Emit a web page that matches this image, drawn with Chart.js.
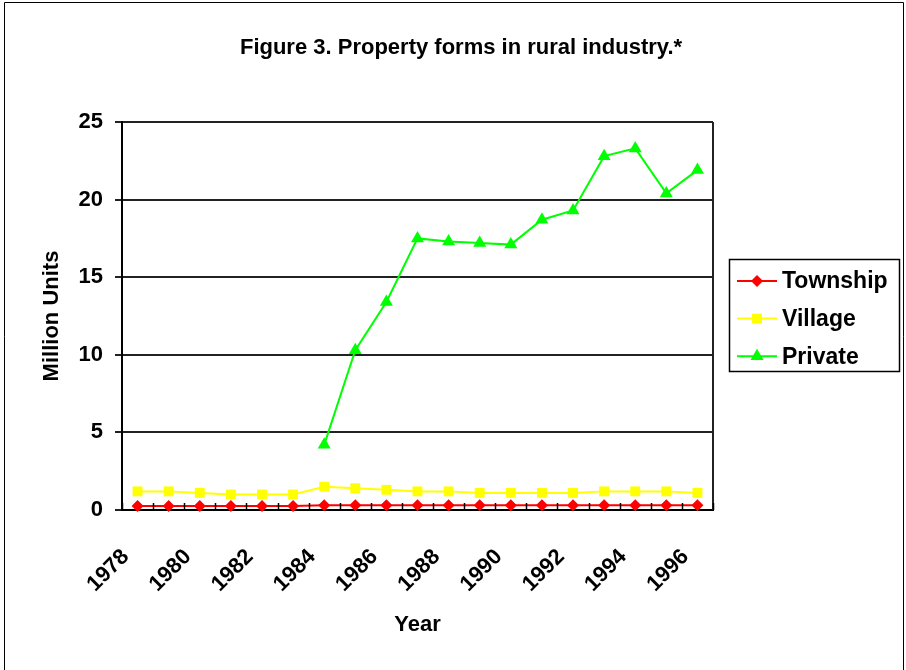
<!DOCTYPE html>
<html>
<head>
<meta charset="utf-8">
<script src="https://cdn.jsdelivr.net/npm/chart.js@4.4.1/dist/chart.umd.min.js"></script>
<style>
  html, body { margin: 0; padding: 0; background: #fff; }
  #wrap { position: relative; width: 906px; height: 670px; }
</style>
</head>
<body>
<div id="wrap"><canvas id="chart" width="906" height="670"></canvas></div>
<script>
var years = ['1978','1979','1980','1981','1982','1983','1984','1985','1986','1987',
             '1988','1989','1990','1991','1992','1993','1994','1995','1996'];
var township = [0.25, 0.25, 0.25, 0.25, 0.25, 0.25, 0.3, 0.3, 0.3, 0.3,
                0.3, 0.3, 0.3, 0.3, 0.3, 0.3, 0.3, 0.3, 0.3];
var village = [1.2, 1.2, 1.1, 1.0, 1.0, 1.0, 1.5, 1.4, 1.3, 1.2,
               1.2, 1.1, 1.1, 1.1, 1.1, 1.2, 1.2, 1.2, 1.1];
var privateUnits = [null, null, null, null, null, null, 4.2, 10.3, 13.4, 17.5,
                    17.3, 17.2, 17.1, 18.7, 19.3, 22.8, 23.3, 20.4, 21.9];
var yTicks = [0, 5, 10, 15, 20, 25];

var FONT = '"Liberation Sans", Arial, sans-serif';
var chartTitle = 'Figure 3. Property forms in rural industry.*';

var seriesInfo = [
    {label: 'Township', data: township, color: '#ff0000', style: 'rectRot', radius: 6},
    {label: 'Village', data: village, color: '#ffff00', style: 'rect', radius: 7},
    {label: 'Private', data: privateUnits, color: '#00ff00', style: 'triangle', radius: 7.5}
];

// frame, title, plot box, inner x ticks and legend
var decorations = {
    id: 'decorations',
    beforeDraw(chart) {
        var ctx = chart.ctx;
        ctx.save();
        ctx.fillStyle = '#fff';
        ctx.fillRect(0, 0, chart.width, chart.height);
        ctx.strokeStyle = '#000';
        ctx.lineWidth = 1;
        ctx.beginPath();
        ctx.moveTo(4.5, 670);
        ctx.lineTo(4.5, 2.5);
        ctx.lineTo(903.5, 2.5);
        ctx.lineTo(903.5, 670);
        ctx.stroke();
        ctx.restore();
    },
    afterDraw(chart) {
        var ctx = chart.ctx;
        var area = chart.chartArea;
        var x = chart.scales.x;
        ctx.save();
        // right edge of plot
        ctx.strokeStyle = '#222';
        ctx.lineWidth = 2;
        ctx.beginPath();
        ctx.moveTo(area.right, area.top);
        ctx.lineTo(area.right, area.bottom);
        ctx.stroke();
        // inner tick marks on category boundaries
        ctx.strokeStyle = '#000';
        ctx.lineWidth = 1.5;
        ctx.beginPath();
        for (var i = 0; i <= years.length; i++) {
            var px = Math.round(x.getPixelForValue(i - 0.5)) + 0.5;
            ctx.moveTo(px, area.bottom);
            ctx.lineTo(px, area.bottom - 7);
        }
        ctx.stroke();

        // title
        ctx.fillStyle = '#000';
        ctx.font = 'bold 22px ' + FONT;
        ctx.textAlign = 'center';
        ctx.textBaseline = 'middle';
        ctx.fillText(chartTitle, 461, 48);

        // legend
        ctx.strokeStyle = '#000';
        ctx.lineWidth = 1.5;
        ctx.strokeRect(729.5, 259.5, 170, 112);
        ctx.textAlign = 'left';
        seriesInfo.forEach(function(s, i) {
            var y = 281 + i * 37.6;
            ctx.strokeStyle = s.color;
            ctx.lineWidth = 2;
            ctx.beginPath();
            ctx.moveTo(737, y);
            ctx.lineTo(777, y);
            ctx.stroke();
            ctx.fillStyle = s.color;
            Chart.helpers.drawPoint(ctx, {pointStyle: s.style, radius: s.radius, rotation: 0, borderWidth: 0}, 757, y);
            ctx.fillStyle = '#000';
            ctx.font = 'bold 23px ' + FONT;
            ctx.fillText(s.label, 782, y + 1);
        });
        ctx.restore();
    }
};

var ctx = document.getElementById('chart').getContext('2d');
var chart = new Chart(ctx, {
    type: 'line',
    data: {
        labels: years,
        datasets: seriesInfo.map(function(s) {
            return {
                label: s.label,
                data: s.data,
                borderColor: s.color,
                backgroundColor: s.color,
                pointBackgroundColor: s.color,
                pointBorderColor: s.color,
                pointBorderWidth: 0,
                pointStyle: s.style,
                pointRadius: s.radius,
                borderWidth: 2,
                tension: 0,
                spanGaps: false,
                clip: false
            };
        })
    },
    options: {
        responsive: false,
        animation: false,
        layout: {padding: {top: 122, right: 193, left: 0, bottom: 0}},
        plugins: {
            legend: {display: false},
            title: {display: false},
            tooltip: {enabled: false}
        },
        scales: {
            x: {
                offset: true,
                grid: {display: false, offset: true},
                border: {display: true, color: '#000', width: 2},
                ticks: {
                    autoSkip: false,
                    maxRotation: 45,
                    minRotation: 45,
                    padding: 26,
                    labelOffset: -12,
                    color: '#000',
                    font: {family: FONT, size: 22, weight: 'bold'},
                    callback: function(value, index) {
                        return index % 2 === 0 ? years[index] : '';
                    }
                },
                title: {
                    display: true,
                    text: 'Year',
                    color: '#000',
                    font: {family: FONT, size: 22, weight: 'bold'},
                    padding: {top: 0, bottom: 32}
                },
                afterFit: function(scale) { scale.height = 160; }
            },
            y: {
                min: 0,
                max: 25,
                afterBuildTicks: function(scale) {
                    scale.ticks = yTicks.map(function(v) { return {value: v}; });
                },
                grid: {color: '#222', lineWidth: 2, tickLength: 7, drawTicks: true},
                border: {display: true, color: '#000', width: 2},
                ticks: {
                    padding: 12,
                    color: '#000',
                    font: {family: FONT, size: 22, weight: 'bold'}
                },
                title: {
                    display: true,
                    text: 'Million Units',
                    color: '#000',
                    font: {family: FONT, size: 22, weight: 'bold'},
                    padding: {top: 39, bottom: 0}
                },
                afterFit: function(scale) { scale.width = 122; }
            }
        }
    },
    plugins: [decorations]
});
</script>
</body>
</html>
